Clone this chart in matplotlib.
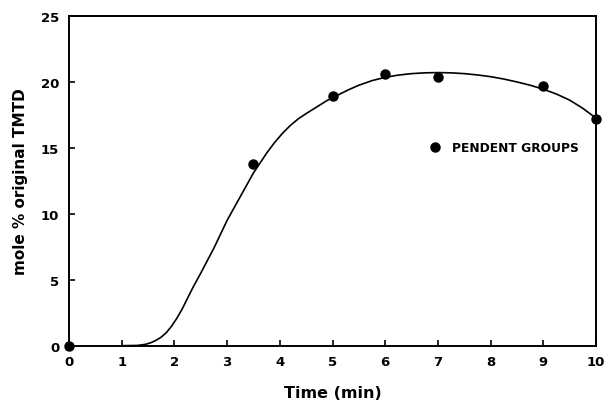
import matplotlib
matplotlib.use("Agg")
import matplotlib.pyplot as plt

# Measured pendent-group content
time_pts = [0, 3.5, 5, 6, 7, 9, 10]
pendent_pts = [0, 13.8, 18.95, 20.6, 20.4, 19.7, 17.2]

# Smooth trend curve through the data
curve_t = [1.0, 1.3, 1.45, 1.55, 1.65, 1.75, 1.85, 1.95, 2.05, 2.15, 2.25,
           2.35, 2.5, 2.75, 3.0, 3.25, 3.5, 3.75, 3.9, 4.05, 4.2, 4.35,
           4.5, 4.7, 4.9, 5.1, 5.3, 5.5, 5.75, 6.0, 6.25, 6.5, 6.75, 7.0,
           7.25, 7.5, 7.75, 8.0, 8.25, 8.5, 8.75, 9.0, 9.25, 9.5, 9.75, 10.0]
curve_y = [0, 0.02, 0.1, 0.22, 0.4, 0.65, 1.0, 1.5, 2.1, 2.8, 3.6,
           4.4, 5.5, 7.4, 9.5, 11.3, 13.1, 14.6, 15.4, 16.1, 16.7, 17.2,
           17.6, 18.1, 18.6, 19.0, 19.4, 19.75, 20.1, 20.35, 20.52, 20.63,
           20.69, 20.71, 20.69, 20.63, 20.53, 20.4, 20.22, 20.0, 19.75,
           19.45, 19.08, 18.62, 18.0, 17.25]

x_ticks = list(range(0, 11))
y_ticks = [0, 5, 10, 15, 20, 25]

plt.rcParams['font.family'] = ['DejaVu Sans']
plt.rcParams['font.weight'] = 'bold'

fig = plt.figure(figsize=(6.04, 4.02), dpi=100)
ax = fig.add_axes([0.1142, 0.1376, 0.8726, 0.8201])

ax.plot(curve_t, curve_y, color='black', lw=1.2, solid_capstyle='round',
        solid_joinstyle='round')
ax.plot(time_pts, pendent_pts, 'o', color='black', markersize=6.5,
        clip_on=False, zorder=5)

ax.set_xlim(0, 10)
ax.set_ylim(0, 25)
ax.set_xticks(x_ticks)
ax.set_yticks(y_ticks)
ax.tick_params(direction='in', length=4, width=1.2, labelsize=9.5, pad=7)
for lab in ax.get_xticklabels() + ax.get_yticklabels():
    lab.set_fontweight('bold')
for sp in ax.spines.values():
    sp.set_linewidth(1.4)

ax.set_xlabel('Time (min)', fontsize=11.5, fontweight='bold', labelpad=12)
ax.set_ylabel('mole % original TMTD', fontsize=11, fontweight='bold', labelpad=9)

# Legend entry
ax.plot([6.95], [15.05], 'o', color='black', markersize=6.5)
ax.text(7.27, 15.05, 'PENDENT GROUPS', fontsize=8.8, fontweight='bold',
        va='center', ha='left')

fig.savefig('out.png', dpi=100)
